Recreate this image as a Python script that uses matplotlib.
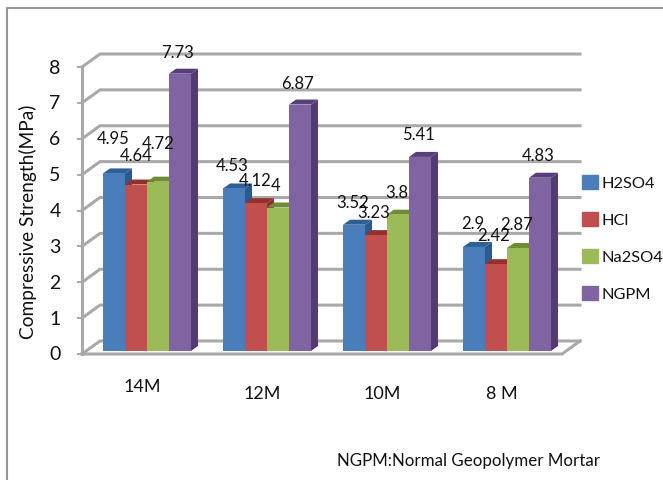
import numpy as np
import matplotlib
matplotlib.use('Agg')
import matplotlib.pyplot as plt
from matplotlib.lines import Line2D
from matplotlib.patches import Polygon, Rectangle
from matplotlib.transforms import ScaledTranslation

plt.rcParams['font.family'] = 'Lato'

groups = ['14M', '12M', '10M', '8 M']
h2so4 = [4.95, 4.53, 3.52, 2.9]
hcl = [4.64, 4.12, 3.23, 2.42]
na2so4 = [4.72, 4, 3.8, 2.87]
ngpm = [7.73, 6.87, 5.41, 4.83]
series = ['H2SO4', 'HCl', 'Na2SO4', 'NGPM']
yticks = [0, 1, 2, 3, 4, 5, 6, 7, 8]

face = ['#4a7ebb', '#c0504d', '#9bbb59', '#8064a2']
top = ['#2f5f94', '#93302d', '#6f8c35', '#57407a']
side = ['#2c5a8c', '#8c2e2b', '#6a8633', '#543c72']
grid = '#a9a9a9'

# label nudges in pixels, relative to the bar's top centre
label_dx = [[-1, 0, 0, -2], [-2, -1, -2, -2], [-1, -2, -1, -2], [-1, -2, -1, -2]]
label_dy = [[35, 30, 39, 22], [23, 23, 22, 22], [23, 23, 23, 23], [24, 29, 24, 23]]
group_label_y = [32, 39, 39, 39]

W, H = 663, 481
fig = plt.figure(figsize=(W / 100, H / 100), dpi=100)
ax = fig.add_axes([82 / W, 1 - 355 / H, 480 / W, 287 / H])
ax.set_xlim(0, 4)
ax.set_ylim(0, 8)
ax.axis('off')

px = 4 / 480         # x data units per pixel
py = 8 / 287         # y data units per pixel
wall_dx, wall_dy = 18 * px, 13 * py
bar_dx, bar_dy = 7 * px, 5 * py
bar_w = 22 * px

# chart frame, only the top and left edges fall inside the image
fig.add_artist(Line2D([7 / W, 7 / W, 1], [0, 1 - 8.5 / H, 1 - 8.5 / H], color='#969696', lw=1.5,
                      transform=fig.transFigure))

# gridlines on the back wall and the left wall
for v in yticks:
    ax.plot([0, wall_dx, 4 + wall_dx], [v, v + wall_dy, v + wall_dy],
            color=grid, lw=2.2, clip_on=False, solid_joinstyle='miter', zorder=1)
    ax.plot([-4 * px, 0], [v, v], color=grid, lw=1.5, clip_on=False, zorder=1)
ax.plot([0, 0], [0, 8], color=grid, lw=2.2, clip_on=False, zorder=1)
ax.plot([0, 4, 4 + wall_dx], [0, 0, wall_dy], color=grid, lw=2.2, clip_on=False, zorder=1)

# bars stand a little inside the floor
shift = ax.transData + ScaledTranslation(5 / 100, 3 / 100, fig.dpi_scale_trans)
values = [h2so4, hcl, na2so4, ngpm]
x = np.arange(len(groups)) + 0.5

for j, vals in enumerate(values):
    xs = x + (j - 1.5) * bar_w
    ax.bar(xs, vals, bar_w, color=face[j], transform=shift, zorder=3 + j * 0.1)
    for i, v in enumerate(vals):
        l, r = xs[i] - bar_w / 2, xs[i] + bar_w / 2
        ax.add_patch(Polygon([(l, v), (l + bar_dx, v + bar_dy), (r + bar_dx, v + bar_dy), (r, v)],
                             color=top[j], lw=0, transform=shift, zorder=2.9 + j * 0.1))
        ax.add_patch(Polygon([(r, 0), (r + bar_dx, bar_dy), (r + bar_dx, v + bar_dy), (r, v)],
                             color=side[j], lw=0, transform=shift, zorder=2.9 + j * 0.1))

for j, vals in enumerate(values):
    xs = x + (j - 1.5) * bar_w
    for i, v in enumerate(vals):
        ax.annotate(f'{v:g}', (xs[i], v), xycoords=shift,
                    xytext=(label_dx[i][j], label_dy[i][j]), textcoords='offset pixels',
                    ha='center', va='center', fontsize=12, color='#111111', zorder=10)

for v in yticks:
    ax.annotate(str(v), (0, v), xytext=(-27, 0), textcoords='offset pixels',
                ha='center', va='center', fontsize=14, color='#111111')

for i, name in enumerate(groups):
    ax.annotate(name, (x[i], 0), xytext=(0, -group_label_y[i]), textcoords='offset pixels',
                ha='center', va='center', fontsize=13, color='#111111')

fig.text(28 / W, 1 - 222 / H, 'Compressive Strength(MPa)', rotation=90,
         ha='center', va='center', fontsize=13.8, color='#111111')
fig.text(337 / W, 1 - 461 / H, 'NGPM:Normal Geopolymer Mortar',
         ha='left', va='center', fontsize=12.2, color='#111111')

handles = [Rectangle((0, 0), 1, 1, color=c) for c in face]
fig.legend(handles, series, loc='center left', bbox_to_anchor=(582 / W, 1 - 239 / H),
           frameon=False, fontsize=11.8, handlelength=0.95, handleheight=0.95,
           handletextpad=0.25, labelspacing=1.3, borderpad=0, borderaxespad=0,
           labelcolor='#111111')

fig.savefig('out.png', dpi=100)
